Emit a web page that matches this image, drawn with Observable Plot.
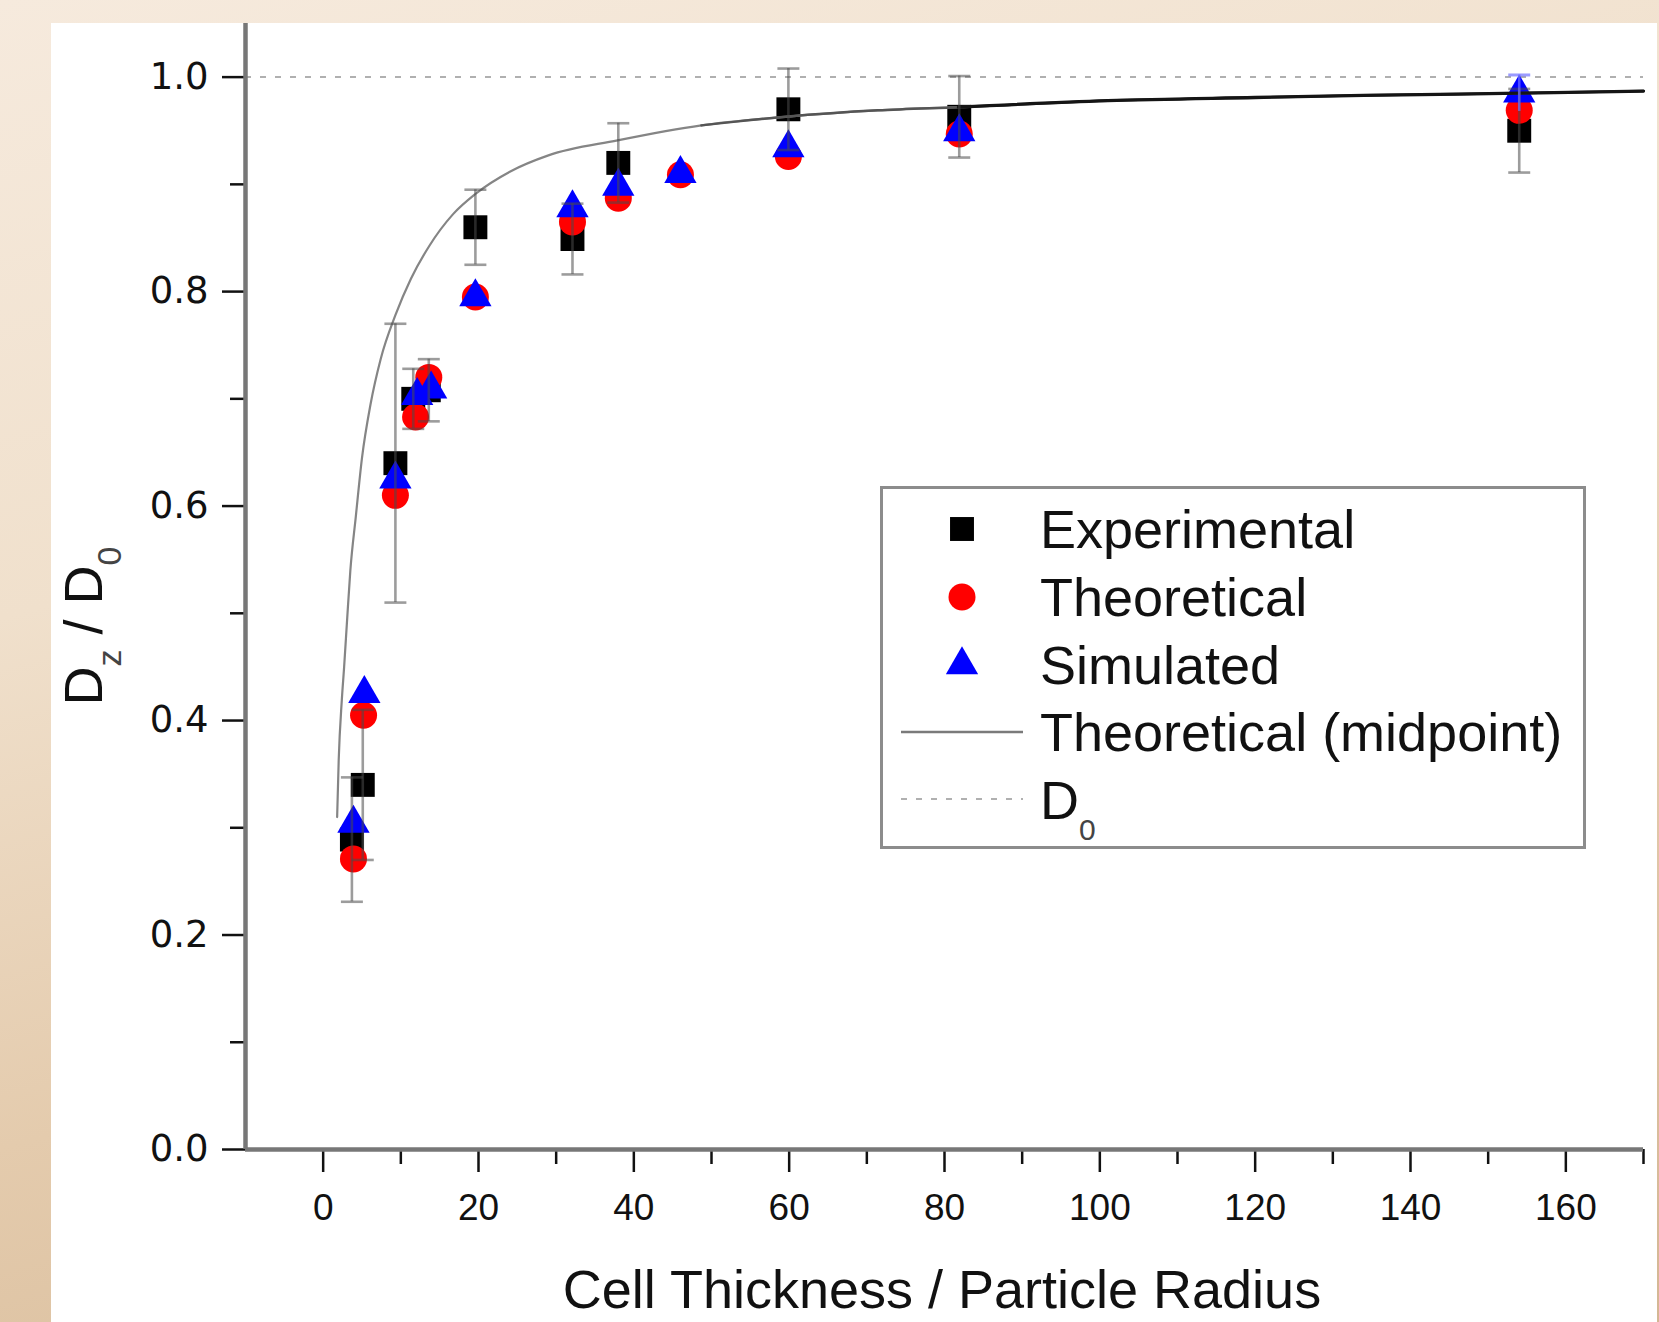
<!DOCTYPE html>
<html><head><meta charset="utf-8">
<script src="https://cdn.jsdelivr.net/npm/d3@7"></script>
<script src="https://cdn.jsdelivr.net/npm/@observablehq/plot@0.6"></script>
<style>
html,body{margin:0;padding:0;overflow:hidden;}
body{width:1659px;height:1322px;position:relative;
 background:linear-gradient(165deg,#f6eadd 0%,#f0e0cc 35%,#e4cbad 65%,#d4b794 100%);
 font-family:"Liberation Sans",Arial,sans-serif;}
#panel{position:absolute;left:51px;top:23px;width:1606px;height:1299px;background:#fff;}
#chart{position:absolute;left:0;top:0;}
</style></head><body>
<div id="panel"></div><div id="chart"></div>
<script>
// ---- data ----
const expX   = [3.7, 5.1, 9.3, 11.6, 13.6, 19.6, 32.1, 38, 59.9, 81.9, 154];
const expY   = [0.289, 0.34, 0.64, 0.70, 0.708, 0.86, 0.849, 0.92, 0.97, 0.963, 0.95];
const expErr = [0.058, 0.07, 0.13, 0.028, 0.029, 0.035, 0.033, 0.037, 0.038, 0.038, 0.039];

const thX = [3.9, 5.2, 9.3, 11.9, 13.6, 19.6, 32.1, 38, 46, 59.9, 81.9, 154];
const thY = [0.271, 0.405, 0.61, 0.683, 0.72, 0.795, 0.865, 0.887, 0.909, 0.926, 0.947, 0.969];

const simX   = [3.9, 5.3, 9.3, 12.1, 13.9, 19.6, 32.1, 38, 46, 59.9, 81.9, 154];
const simY   = [0.304, 0.425, 0.625, 0.703, 0.709, 0.795, 0.878, 0.898, 0.91, 0.934, 0.949, 0.985];
const simErr = [0, 0, 0, 0, 0, 0, 0, 0, 0, 0, 0, 0.017];

const curveX = [1.8, 2.0, 2.4, 2.7, 3.1, 3.5, 4.2, 5.0, 6.1, 7.4, 9.3, 11.3, 13.7, 16.7, 19.6, 24.1, 29, 37.9, 48.7, 59.5, 71.4, 81.8, 101, 120, 134, 154, 170];
const curveY = [0.31, 0.363, 0.419, 0.45, 0.496, 0.54, 0.59, 0.645, 0.695, 0.737, 0.778, 0.812, 0.843, 0.872, 0.891, 0.912, 0.927, 0.941, 0.955, 0.963, 0.969, 0.972, 0.978, 0.981, 0.983, 0.985, 0.987];

const d0Value = [1.0];
const xDomain = [-10, 170];
const yDomain = [0, 1.05];
const xTicks = [0, 20, 40, 60, 80, 100, 120, 140, 160];
const xMinor = [10, 30, 50, 70, 90, 110, 130, 150, 170];
const yTicks = [0, 0.2, 0.4, 0.6, 0.8, 1.0];
const yMinor = [0.1, 0.3, 0.5, 0.7, 0.9];
const xTitle = "Cell Thickness / Particle Radius";
const seriesNames = ["Experimental", "Theoretical", "Simulated", "Theoretical (midpoint)", "D"];
const midStart = 48, darkStart = 80; // curve drawn progressively darker to the right (as in the reference)

// ---- tables ----
const exp = expX.map((x, i) => ({x, y: expY[i], e: expErr[i]}));
const th = thX.map((x, i) => ({x, y: thY[i]}));
const sim = simX.map((x, i) => ({x, y: simY[i], e: simErr[i]}));
const simE = sim.filter(d => d.e > 0);
const curve = curveX.map((x, i) => ({x, y: curveY[i]}));

const cap = {draw(ctx, size) { const w = Math.sqrt(size); ctx.moveTo(-w / 2, 0); ctx.lineTo(w / 2, 0); }};
const errStyle = {stroke: "#4a4a4a", strokeOpacity: 0.55, strokeWidth: 2.6};

const chart = Plot.plot({
  width: 1659, height: 1322,
  marginLeft: 245, marginRight: 16, marginTop: 23, marginBottom: 173,
  style: {background: "none", overflow: "visible", fontFamily: "Liberation Sans, Arial, sans-serif", color: "#111"},
  x: {domain: xDomain},
  y: {domain: yDomain},
  marks: [
    Plot.ruleY(d0Value, {stroke: "#b0b0b0", strokeWidth: 2, strokeDasharray: "6,9"}),
    Plot.dot(exp, {x: "x", y: "y", symbol: "square", r: 13.5, fill: "#000"}),
    Plot.dot(th, {x: "x", y: "y", symbol: "circle", r: 13.5, fill: "#ff0000"}),
    Plot.dot(sim, {x: "x", y: "y", symbol: "triangle", r: 12, fill: "#0000ff"}),
    Plot.line(curve, {x: "x", y: "y", stroke: "#858585", strokeWidth: 2.2, curve: "monotone-x"}),
    Plot.line(curve.filter(d => d.x >= midStart), {x: "x", y: "y", stroke: "#555", strokeWidth: 2.5, curve: "monotone-x"}),
    Plot.line(curve.filter(d => d.x >= darkStart), {x: "x", y: "y", stroke: "#151515", strokeWidth: 3.3, curve: "monotone-x"}),
    Plot.ruleX(exp, {x: "x", y1: d => d.y - d.e, y2: d => d.y + d.e, ...errStyle}),
    Plot.dot(exp, {x: "x", y: d => d.y + d.e, symbol: cap, r: 12.4, fill: "none", ...errStyle}),
    Plot.dot(exp, {x: "x", y: d => d.y - d.e, symbol: cap, r: 12.4, fill: "none", ...errStyle}),
    Plot.ruleX(simE, {x: "x", y1: d => d.y - d.e, y2: d => d.y + d.e, stroke: "#7070ff", strokeOpacity: 0.7, strokeWidth: 2.6}),
    Plot.dot(simE, {x: "x", y: d => d.y + d.e, symbol: cap, r: 12.4, fill: "none", stroke: "#7070ff", strokeOpacity: 0.7, strokeWidth: 3}),
    Plot.axisX({ticks: xTicks, tickSize: 23, tickPadding: 21, fontSize: 37, strokeWidth: 2.5, label: null, tickFormat: d => String(d), fontFamily: "Liberation Sans, Arial, sans-serif"}),
    Plot.axisX({ticks: xMinor, tickSize: 15, strokeWidth: 2.5, label: null, tickFormat: () => ""}),
    Plot.axisY({ticks: yTicks, tickSize: 23, tickPadding: 14, fontSize: 37, strokeWidth: 2.5, label: null, tickFormat: d3.format(".1f"), fontFamily: "DejaVu Sans, sans-serif"}),
    Plot.axisY({ticks: yMinor, tickSize: 15, strokeWidth: 2.5, label: null, tickFormat: () => ""}),
    Plot.ruleX([xDomain[0]], {y1: yDomain[0], y2: yDomain[1], stroke: "#777", strokeWidth: 4.5}),
    Plot.ruleY([yDomain[0]], {x1: xDomain[0], x2: xDomain[1], stroke: "#777", strokeWidth: 4.5})
  ]
});
document.getElementById("chart").appendChild(chart);

// ---- titles and legend ----
const svg = d3.select(chart);
const F = "Liberation Sans, Arial, sans-serif";
svg.append("text").attr("x", 942).attr("y", 1308).attr("text-anchor", "middle")
  .attr("font-family", F).attr("font-size", 54).attr("fill", "#111").text(xTitle);

const yt = svg.append("text").attr("transform", "translate(102,626) rotate(-90)")
  .attr("text-anchor", "middle").attr("font-family", F).attr("font-size", 54).attr("fill", "#111");
yt.append("tspan").text("D");
yt.append("tspan").attr("font-size", 34).attr("dy", 19).attr("fill", "#444").text("z");
yt.append("tspan").attr("dy", -19).text(" / D");
yt.append("tspan").attr("font-size", 34).attr("dy", 19).attr("fill", "#444").text("0");

const lg = svg.append("g");
lg.append("rect").attr("x", 881.5).attr("y", 487.5).attr("width", 703).attr("height", 360)
  .attr("fill", "#fff").attr("stroke", "#8c8c8c").attr("stroke-width", 3);
const rowsBase = [548, 616, 684, 751, 819];
const symX = 962, txtX = 1040;
const sq = d3.symbol().type(d3.symbolSquare).size(Math.PI * 13.5 * 13.5)();
const ci = d3.symbol().type(d3.symbolCircle).size(Math.PI * 13.5 * 13.5)();
const tr = d3.symbol().type(d3.symbolTriangle).size(Math.PI * 12 * 12)();
lg.append("path").attr("d", sq).attr("fill", "#000").attr("transform", `translate(${symX},${rowsBase[0] - 19})`);
lg.append("path").attr("d", ci).attr("fill", "#ff0000").attr("transform", `translate(${symX},${rowsBase[1] - 19})`);
lg.append("path").attr("d", tr).attr("fill", "#0000ff").attr("transform", `translate(${symX},${rowsBase[2] - 19})`);
lg.append("line").attr("x1", 901).attr("x2", 1023).attr("y1", rowsBase[3] - 19).attr("y2", rowsBase[3] - 19)
  .attr("stroke", "#7a7a7a").attr("stroke-width", 2.5);
lg.append("line").attr("x1", 901).attr("x2", 1023).attr("y1", rowsBase[4] - 20).attr("y2", rowsBase[4] - 20)
  .attr("stroke", "#b0b0b0").attr("stroke-width", 2).attr("stroke-dasharray", "6,9");
seriesNames.forEach((name, i) => {
  const t = lg.append("text").attr("x", txtX).attr("y", rowsBase[i]).attr("font-family", F)
    .attr("text-anchor", "start").attr("font-size", 54).attr("fill", "#111");
  t.append("tspan").text(name);
  if (i === 4) t.append("tspan").attr("font-size", 30).attr("dy", 21).attr("fill", "#444").text("0");
});
</script>
</body></html>
